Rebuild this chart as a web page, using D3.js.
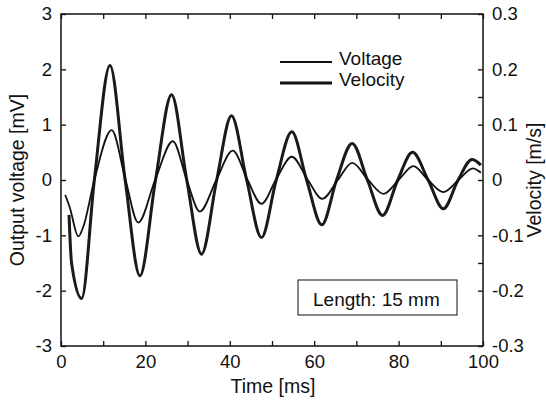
<!DOCTYPE html>
<html>
<head>
<meta charset="utf-8">
<script src="https://cdn.jsdelivr.net/npm/d3@7"></script>
<style>
body { margin: 0; background: #fff; }
svg text { font-family: "Liberation Sans", Arial, Helvetica, sans-serif; fill: #111; }
</style>
</head>
<body>
<svg id="chart" width="546" height="407"></svg>
<script>
// time [ms] and values
let voltT = [1.0, 2.1, 4.1, 5.3, 7.9, 12.0, 15.3, 18.3, 22.3, 26.5, 29.8, 32.9, 36.8, 40.7, 44.2, 47.5, 50.9, 54.7, 58.5, 61.9, 65.6, 69.0, 72.8, 76.4, 80.0, 83.5, 87.0, 90.6, 94.2, 97.6, 99.5];
let voltV = [-0.27, -0.5, -1.02, -0.84, 0, 0.90, 0, -0.77, 0, 0.70, 0, -0.57, 0, 0.53, 0, -0.43, 0, 0.42, 0, -0.34, 0, 0.31, 0, -0.25, 0, 0.25, 0, -0.22, 0, 0.21, 0.13];
let veloT = [1.9, 2.5, 4.9, 7.9, 11.6, 15.2, 18.7, 22.4, 26.2, 29.8, 33.3, 36.9, 40.4, 44.0, 47.5, 51.0, 54.7, 58.2, 61.8, 65.3, 69.0, 72.6, 76.2, 79.8, 83.3, 87.0, 90.6, 94.1, 97.4, 99.5];
let veloV = [-0.063, -0.15, -0.214, 0, 0.207, 0, -0.173, 0, 0.154, 0, -0.134, 0, 0.116, 0, -0.104, 0, 0.087, 0, -0.081, 0, 0.066, 0, -0.064, 0, 0.050, 0, -0.052, 0, 0.037, 0.027];
let xTicks = [0, 10, 20, 30, 40, 50, 60, 70, 80, 90, 100];
let xLabels = [0, 20, 40, 60, 80, 100];
let yLeftTicks = [-3, -2, -1, 0, 1, 2, 3];
let yRightTicks = [-0.3, -0.2, -0.15, -0.1, 0, 0.1, 0.15, 0.2, 0.3];
let yRightLabels = [-0.3, -0.2, -0.1, 0, 0.1, 0.2, 0.3];
let legendNames = ['Voltage', 'Velocity'];
let note = 'Length: 15 mm';

let svg = d3.select('#chart');
let pl = 61, pr = 483, pt = 14, pb = 346;
let x = d3.scaleLinear().domain([0, 100]).range([pl, pr]);
let yL = d3.scaleLinear().domain([-3, 3]).range([pb, pt]);
let yR = d3.scaleLinear().domain([-0.3, 0.3]).range([pb, pt]);
let fs = 18.5;

function styleAxis(g){
    g.select('.domain').remove();
    g.selectAll('line').attr('stroke', '#111').attr('stroke-width', 1.3);
    g.selectAll('text').attr('font-size', fs).attr('fill', '#111');
}
// bottom
svg.append('g').attr('transform', `translate(0,${pb})`)
    .call(d3.axisBottom(x).tickValues(xTicks).tickSizeInner(-5).tickSizeOuter(0).tickPadding(9)
        .tickFormat(d => xLabels.includes(d) ? String(d) : ''))
    .call(styleAxis);
// top
svg.append('g').attr('transform', `translate(0,${pt})`)
    .call(d3.axisTop(x).tickValues(xTicks).tickSizeInner(-5).tickSizeOuter(0).tickFormat(''))
    .call(styleAxis);
// left
svg.append('g').attr('transform', `translate(${pl},0)`)
    .call(d3.axisLeft(yL).tickValues(yLeftTicks).tickSizeInner(-5).tickSizeOuter(0).tickPadding(9)
        .tickFormat(d => String(d)))
    .call(styleAxis);
// right
svg.append('g').attr('transform', `translate(${pr},0)`)
    .call(d3.axisRight(yR).tickValues(yRightTicks).tickSizeInner(-5).tickSizeOuter(0).tickPadding(9)
        .tickFormat(d => yRightLabels.includes(d) ? String(d) : ''))
    .call(styleAxis);
// frame
svg.append('rect').attr('x', pl).attr('y', pt).attr('width', pr - pl).attr('height', pb - pt)
    .attr('fill', 'none').attr('stroke', '#111').attr('stroke-width', 1.5);

// lines
let voltLine = d3.line().x(i => x(voltT[i])).y(i => yL(voltV[i])).curve(d3.curveMonotoneX);
let veloLine = d3.line().x(i => x(veloT[i])).y(i => yR(veloV[i])).curve(d3.curveMonotoneX);
svg.append('path').attr('d', veloLine(d3.range(veloT.length)))
    .attr('fill', 'none').attr('stroke', '#1a1a1a').attr('stroke-width', 3);
svg.append('path').attr('d', voltLine(d3.range(voltT.length)))
    .attr('fill', 'none').attr('stroke', '#111').attr('stroke-width', 1.8);

// axis titles
svg.append('text').attr('x', 273).attr('y', 393).attr('text-anchor', 'middle')
    .attr('font-size', 19.5).text('Time [ms]');
svg.append('text').attr('transform', `translate(24,${(pt + pb) / 2}) rotate(-90)`)
    .attr('text-anchor', 'middle').attr('font-size', 19.5).text('Output voltage [mV]');
svg.append('text').attr('transform', `translate(541,${(pt + pb) / 2}) rotate(-90)`)
    .attr('text-anchor', 'middle').attr('font-size', 19.5).text('Velocity [m/s]');

// legend
let lg = svg.append('g');
legendNames.forEach((n, i) => {
    let ly = 62 + i * 21;
    lg.append('line').attr('x1', 280).attr('x2', 332).attr('y1', ly).attr('y2', ly)
        .attr('stroke', '#111').attr('stroke-width', i == 0 ? 1.8 : 3);
    lg.append('text').attr('x', 339).attr('y', ly + 3).attr('font-size', 19).text(n);
});

// note box
svg.append('rect').attr('x', 298).attr('y', 280).attr('width', 159).attr('height', 35)
    .attr('fill', '#fff').attr('stroke', '#111').attr('stroke-width', 1);
svg.append('text').attr('x', 313).attr('y', 305.5).attr('font-size', 19).text(note);
</script>
</body>
</html>
